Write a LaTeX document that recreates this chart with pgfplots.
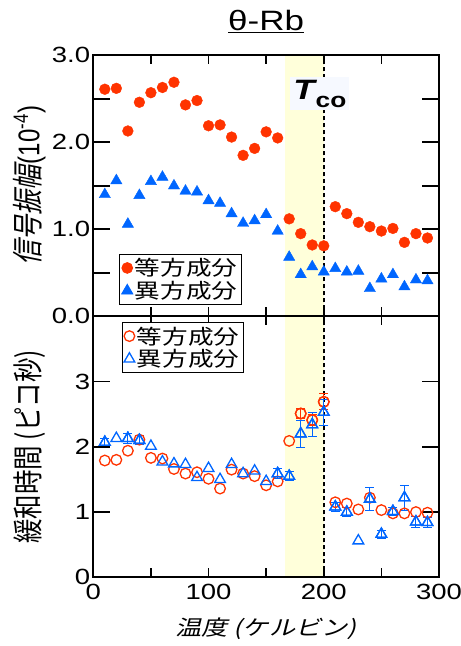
\documentclass[border=0pt]{standalone}
\usepackage{fontspec}
\usepackage{graphicx}
\setmainfont{Liberation Sans}[FakeStretch=1.25]
\newfontfamily\lsplain{Liberation Sans}
\newfontfamily\cjk{Noto Sans CJK JP}[FakeStretch=1.25]
\newfontfamily\cjkit{Noto Sans CJK JP}[FakeStretch=1.25,FakeSlant=0.25]
\newfontfamily\cjkv{Noto Sans CJK JP}
\newfontfamily\cjkvit{Noto Sans CJK JP}[FakeSlant=0.25]
\usepackage{pgfplots}
\pgfplotsset{compat=1.18}
\usepackage{pgfplotstable}

\definecolor{myred}{RGB}{255,51,0}
\definecolor{myblue}{RGB}{0,102,255}
\definecolor{tcshade}{RGB}{255,255,218}
\definecolor{tcobg}{RGB}{246,249,255}

\pgfplotstableread{
T iso aniso
10 2.61 1.40
20 2.62 1.56
30 2.13 1.06
40 2.46 1.39
50 2.57 1.55
60 2.63 1.60
70 2.69 1.50
80 2.43 1.44
90 2.48 1.43
100 2.19 1.33
110 2.20 1.30
120 2.06 1.18
130 1.85 1.07
140 1.93 1.10
150 2.12 1.17
160 2.05 0.98
170 1.12 0.68
180 0.95 0.48
190 0.82 0.57
200 0.81 0.51
210 1.26 0.55
220 1.18 0.51
230 1.08 0.52
240 1.03 0.32
250 0.98 0.43
260 1.01 0.48
270 0.85 0.34
280 0.95 0.42
290 0.90 0.41
}\amp

\pgfplotstableread{
T iso aniso
10 1.79 2.07
20 1.80 2.13
30 1.94 2.13
40 2.11 2.10
50 1.83 2.01
60 1.82 1.77
70 1.66 1.74
80 1.59 1.73
90 1.61 1.53
100 1.51 1.67
110 1.36 1.50
120 1.65 1.73
130 1.59 1.59
140 1.55 1.63
150 1.41 1.47
160 1.47 1.59
170 2.09 1.55
180 2.51 2.20
190 2.41 2.34
200 2.69 2.53
210 1.15 1.08
220 1.13 1.00
230 1.04 0.56
240 1.22 1.20
250 1.03 0.66
260 0.98 1.01
270 0.98 1.22
280 1.00 0.85
290 0.99 0.84
}\tau

\pgfplotstableread{
T iso isoerr
180 2.51 0.08
190 2.41 0.08
200 2.69 0.12
}\isoerr

\pgfplotstableread{
T aniso anisoerr
10 2.07 0.06
30 2.13 0.08
40 2.10 0.07
160 1.59 0.07
170 1.55 0.07
180 2.20 0.21
190 2.34 0.18
200 2.53 0.20
210 1.08 0.07
220 1.00 0.07
240 1.20 0.18
250 0.66 0.06
260 1.01 0.06
270 1.22 0.19
280 0.85 0.08
290 0.84 0.08
}\anisoerr

\pgfplotsset{
  common/.style={
    scale only axis,
    width=345.7pt,
    height=261pt,
    xmin=0, xmax=300,
    axis on top,
    axis line style={line width=1.8pt},
    tick style={line width=1.6pt, black},
    tick align=inside,
    xtick={0,50,...,300},
    xtick style={/pgfplots/major tick length=9pt},
    ytick style={/pgfplots/major tick length=17pt},
    ticklabel style={font=\fontsize{22}{22}\selectfont},
    /pgf/number format/assume math mode=true,
    yticklabel style={inner sep=0pt, xshift=-3pt},
    xticklabel style={inner sep=0pt, yshift=-7pt},
    every axis y label/.style={at={(axis description cs:-0.185,0.5)}, rotate=90, anchor=center},
    legend cell align=left,
  },
  errstyle/.style={error bars/.cd, y dir=both, y explicit, error mark=-,
    error bar style={line width=1pt},
    error mark options={rotate=90, mark size=4.5pt, line width=1pt}},
}

\begin{document}
\begin{tikzpicture}
% bottom panel
\begin{axis}[common,
  at={(0,0)}, anchor=south west,
  ymin=0, ymax=4,
  ytick={0,1,2,3},
  xticklabels={0,{},100,{},200,{},300},
  ylabel={\scalebox{1}[1.25]{\cjkv\fontsize{24.5}{24.5}\selectfont 緩和時間 (ピコ秒)}},
  xlabel={\cjkit\fontsize{21}{21}\selectfont 温度 (ケルビン)},
  every axis x label/.style={at={(axis description cs:0.5,0)}, anchor=base, yshift=-58pt},
  legend style={at={(0.082,0.977)}, anchor=north west, draw=black, line width=0.8pt,
    font=\cjk\fontsize{20.5}{21}\selectfont, inner sep=2pt, row sep=0pt,
    nodes={inner sep=2pt}},
]
\fill[tcshade] (axis cs:166,0) rectangle (axis cs:200,4);
\draw[line width=1.5pt, dash pattern=on 4pt off 3pt] (axis cs:200,0) -- (axis cs:200,4);
\addplot[only marks, mark=o, color=myred, mark size=5.3pt, line width=1.3pt]
  table[x=T, y=iso] {\tau};
\addlegendentry{等方成分}
\addplot[forget plot, only marks, mark=o, color=myred, mark size=5.3pt, line width=1.3pt, errstyle]
  table[x=T, y=iso, y error=isoerr] {\isoerr};
\addplot[only marks, mark=triangle, color=myblue, mark size=6.2pt, line width=1.3pt]
  table[x=T, y=aniso] {\tau};
\addlegendentry{異方成分}
\addplot[forget plot, only marks, mark=triangle, color=myblue, mark size=6.2pt, line width=1.3pt, errstyle]
  table[x=T, y=aniso, y error=anisoerr] {\anisoerr};
\end{axis}

% top panel
\begin{axis}[common,
  at={(0,261pt)}, anchor=south west,
  ymin=0, ymax=3,
  ytick={0,0.5,...,3},
  yticklabels={0.0,{},1.0,{},2.0,{},3.0},
  xticklabels={},
  ylabel={\scalebox{1}[1.25]{{\cjkvit\fontsize{25}{25}\selectfont 信号振幅}\,{\lsplain\fontsize{24}{24}\selectfont(10\textsuperscript{-4})}}},
  title={\fontsize{28}{28}\selectfont\underline{θ-Rb}},
  title style={at={(0.5,1)}, anchor=base, yshift=18.5pt, inner sep=0pt},
  legend style={at={(0.075,0.045)}, anchor=south west, draw=black, line width=0.8pt,
    font=\cjk\fontsize{20.5}{21}\selectfont, inner sep=2pt, row sep=0pt,
    nodes={inner sep=2pt}},
]
\fill[tcshade] (axis cs:166,0) rectangle (axis cs:200,3);
\draw[line width=1.5pt, dash pattern=on 4pt off 3pt] (axis cs:200,0) -- (axis cs:200,3);
\node[fill=tcobg, inner sep=3pt, anchor=center] at (axis cs:196.6,2.56)
  {\fontsize{28}{28}\selectfont\bfseries\itshape T\kern1pt\raisebox{-8pt}{\fontsize{21}{21}\selectfont\upshape co}};
\addplot[only marks, mark=*, color=myred, mark size=5.4pt] table[x=T, y=iso] {\amp};
\addlegendentry{等方成分}
\addplot[only marks, mark=triangle*, color=myblue, mark size=6.5pt] table[x=T, y=aniso] {\amp};
\addlegendentry{異方成分}
\end{axis}

\pgfresetboundingbox
\path[use as bounding box] (-93.3pt,-68.7pt) rectangle (367.7pt,577.3pt);
\end{tikzpicture}
\end{document}
